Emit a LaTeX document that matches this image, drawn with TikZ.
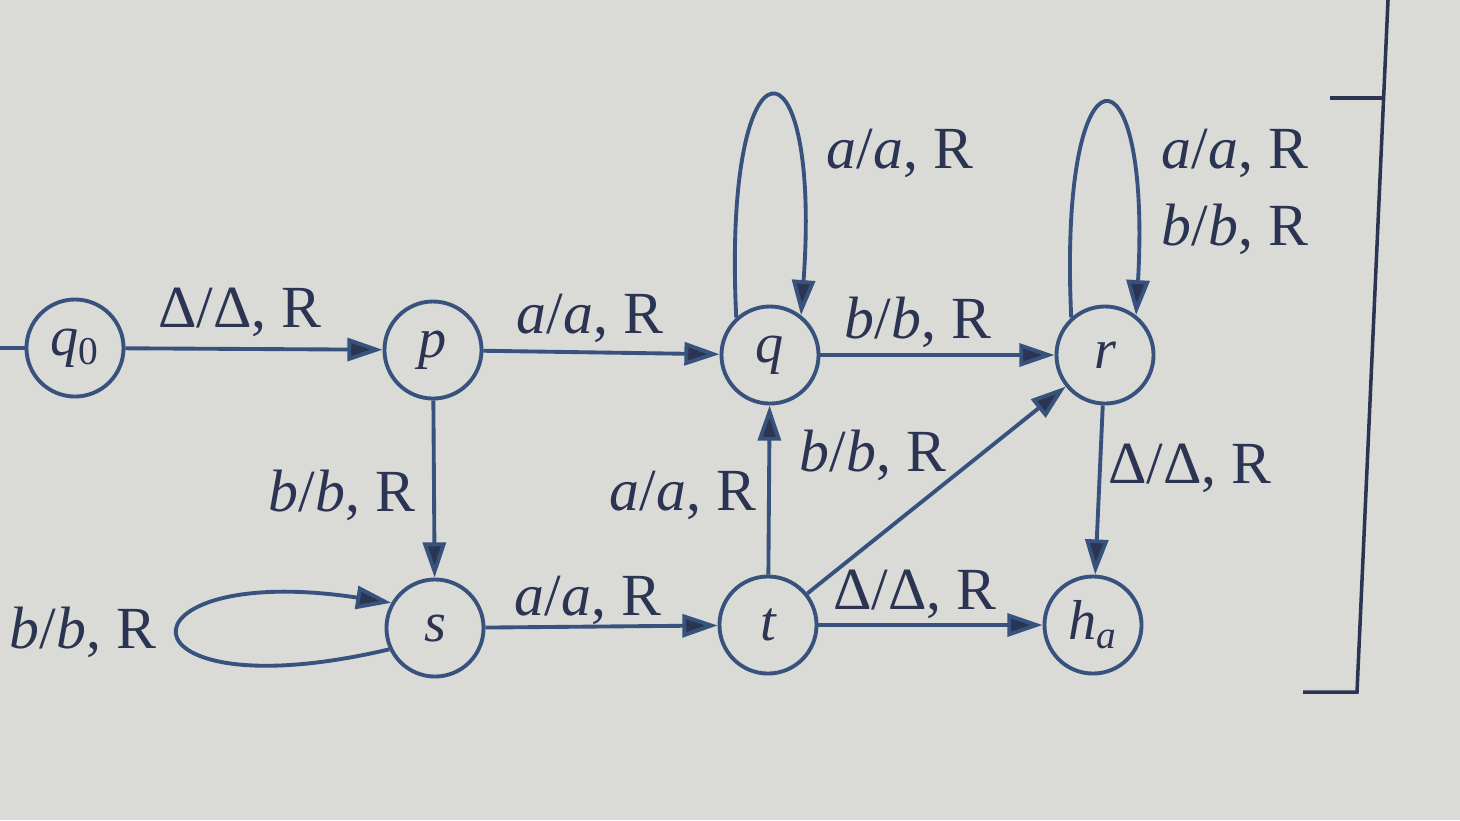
\documentclass[tikz,border=0pt]{standalone}
\usepackage{fontspec}
\setmainfont{Liberation Serif}
\usetikzlibrary{arrows.meta}
\definecolor{bg}{HTML}{DADBD6}
\definecolor{ln}{HTML}{37527D}
\definecolor{tx}{HTML}{2B3452}
\begin{document}
\begin{tikzpicture}[x=0.01cm,y=-0.01cm,
  state/.style={circle,draw=ln,line width=1.1pt,minimum size=0.97cm,inner sep=0pt,text=tx,font=\fontsize{16}{18}\selectfont\itshape},
  edge/.style={draw=ln,line width=1.1pt,-{Triangle[length=10pt,width=6.5pt,fill=tx]}},
  lab/.style={text=tx,font=\fontsize{17}{20}\selectfont,inner sep=0pt,align=left}]
\fill[bg] (0,0) rectangle (1460,820);
\useasboundingbox (0,0) rectangle (1460,820);
\node[state] (q0) at (75,348) {q\textsubscript{\upshape 0}};
\node[state] (p) at (433,350) {p};
\node[state] (q) at (770,355) {q};
\node[state] (r) at (1105,355) {r};
\node[state] (s) at (435,628) {s};
\node[state] (t) at (768,625) {t};
\node[state] (h) at (1093,625) {h\textsubscript{a}};
\coordinate (start) at (0,348);
\draw[draw=ln,line width=1.1pt] (start) -- (q0);
\draw[edge] (q0) -- (p);
\draw[edge] (p) -- (q);
\draw[edge] (q) -- (r);
\draw[edge] (p) -- (s);
\draw[edge] (s) -- (t);
\draw[edge] (t) -- (q);
\draw[edge] (t) -- (r);
\draw[edge] (t) -- (h);
\draw[edge] (r) -- (h);
\draw[edge] (q.132) .. controls (722,25) and (822,25) .. (q.52);
\draw[edge] (r.132) .. controls (1058,35) and (1152,35) .. (r.52);
\draw[edge] (s.205) .. controls (110,715) and (110,560) .. (s.150);
\node[lab] (l1) at (240,312) {Δ/Δ, R};
\node[lab] (l2) at (590,318) {\textit{a}/\textit{a}, R};
\node[lab] (l3) at (918,322) {\textit{b}/\textit{b}, R};
\node[lab] (l4) at (342,495) {\textit{b}/\textit{b}, R};
\node[lab] (l5) at (588,600) {\textit{a}/\textit{a}, R};
\node[lab] (l6) at (683,495) {\textit{a}/\textit{a}, R};
\node[lab] (l7) at (873,455) {\textit{b}/\textit{b}, R};
\node[lab] (l8) at (915,594) {Δ/Δ, R};
\node[lab] (l9) at (1190,468) {Δ/Δ, R};
\node[lab] (l10) at (83,632) {\textit{b}/\textit{b}, R};
\node[lab] (l11) at (900,153) {\textit{a}/\textit{a}, R};
\node[lab] (l12) at (1235,192) {\textit{a}/\textit{a}, R\\[2pt]\textit{b}/\textit{b}, R};
\coordinate (b1) at (1330,98);
\coordinate (b2) at (1384,98);
\coordinate (b3) at (1388,0);
\coordinate (b4) at (1357,692);
\coordinate (b5) at (1303,692);
\draw[draw=tx,line width=1pt] (b1) -- (b2);
\draw[draw=tx,line width=1pt] (b3) -- (b4) -- (b5);
\end{tikzpicture}
\end{document}
